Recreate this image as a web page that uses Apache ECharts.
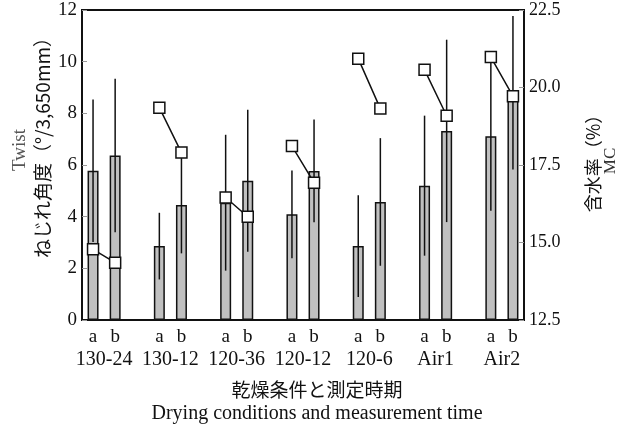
<!DOCTYPE html>
<html>
<head>
<meta charset="utf-8">
<script src="https://cdn.jsdelivr.net/npm/echarts@6/dist/echarts.min.js"></script>
<style>
  html, body { margin: 0; padding: 0; background: #fff; }
  #chart { width: 629px; height: 426px; }
</style>
</head>
<body>
<div id="chart"></div>
<script>
// Drying conditions (group labels) and the two measurement times in each group
const groups = ['130-24', '130-12', '120-36', '120-12', '120-6', 'Air1', 'Air2'];
const phases = ['a', 'b'];

// Twist (deg / 3,650 mm): mean and standard deviation at times a and b
const twistA = [5.78, 2.86, 4.54, 4.09, 2.86, 5.20, 7.11];
const twistB = [6.37, 4.45, 5.39, 5.77, 4.57, 7.32, 8.80];
const sdA    = [2.76, 1.29, 2.63, 1.70, 1.97, 2.71, 2.88];
const sdB    = [2.97, 1.87, 2.75, 1.99, 2.47, 3.53, 2.97];

// Moisture content (%) at times a and b
const mcA = [14.78, 19.35, 16.45, 18.11, 20.93, 20.57, 20.98];
const mcB = [14.35, 17.90, 15.83, 16.93, 19.32, 19.09, 19.72];

// Axis ranges
const twistAxis = { min: 0, max: 12, interval: 2 };
const mcAxis = { min: 12.5, max: 22.5, interval: 2.5 };

const SERIF = "'Liberation Serif', 'DejaVu Serif', serif";
const CJK = "'Noto Sans CJK JP', 'Noto Sans', sans-serif";

// Slots along the x axis: a, b, spacer, a, b, spacer, ... a, b
const slotKeys = [], slotText = [];
const barData = [], mcData = [], errData = [];
groups.forEach((g, i) => {
  phases.forEach((p, j) => {
    const idx = slotKeys.length;
    slotKeys.push(g + '-' + p);
    slotText.push(p);
    const mean = j === 0 ? twistA[i] : twistB[i];
    const sd = j === 0 ? sdA[i] : sdB[i];
    barData.push(mean);
    mcData.push(j === 0 ? mcA[i] : mcB[i]);
    errData.push([idx, mean - sd, mean + sd]);
  });
  if (i < groups.length - 1) {
    slotKeys.push(g + '-gap');
    slotText.push('');
    barData.push('-');
    mcData.push('-');
  }
});

// Boundary positions between slots; group names sit between their a and b
const boundaryKeys = [], boundaryText = [];
for (let k = 0; k <= slotKeys.length; k++) {
  boundaryKeys.push('edge' + k);
  boundaryText.push('');
}
groups.forEach((g, i) => { boundaryText[3 * i + 1] = g; });

const chart = echarts.init(document.getElementById('chart'));
chart.setOption({
  backgroundColor: '#fff',
  animation: false,
  grid: {
    left: 82, right: 105, top: 10, bottom: 106,
    show: true, borderColor: '#111', borderWidth: 2
  },
  xAxis: [
    {
      type: 'category',
      data: slotKeys,
      boundaryGap: true,
      axisLine: { lineStyle: { color: '#111', width: 2 } },
      axisTick: { inside: true, length: 4, lineStyle: { color: '#999', width: 1 } },
      axisLabel: {
        interval: 0, margin: 8,
        formatter: (v, idx) => slotText[idx],
        fontFamily: SERIF, fontSize: 19, color: '#111'
      },
      splitLine: { show: false }
    },
    {
      type: 'category',
      data: boundaryKeys,
      boundaryGap: false,
      position: 'bottom',
      axisLine: { show: false },
      axisTick: { show: false },
      axisLabel: {
        interval: 0, margin: 30,
        formatter: (v, idx) => boundaryText[idx],
        fontFamily: SERIF, fontSize: 20, color: '#111'
      },
      splitLine: { show: false }
    }
  ],
  yAxis: [
    {
      type: 'value',
      position: 'left',
      min: twistAxis.min, max: twistAxis.max, interval: twistAxis.interval,
      axisLine: { show: true, lineStyle: { color: '#111', width: 2 } },
      axisTick: { show: true, inside: true, length: 5, lineStyle: { color: '#999', width: 1 } },
      axisLabel: { margin: 5, fontFamily: SERIF, fontSize: 19, color: '#111' },
      splitLine: { show: false }
    },
    {
      type: 'value',
      position: 'right',
      min: mcAxis.min, max: mcAxis.max, interval: mcAxis.interval,
      axisLine: { show: true, lineStyle: { color: '#111', width: 2 } },
      axisTick: { show: true, inside: true, length: 5, lineStyle: { color: '#999', width: 1 } },
      axisLabel: {
        margin: 5, fontFamily: SERIF, fontSize: 18, color: '#111',
        formatter: v => v.toFixed(1)
      },
      splitLine: { show: false }
    }
  ],
  series: [
    {
      name: 'Twist',
      type: 'bar',
      xAxisIndex: 0, yAxisIndex: 0,
      data: barData,
      barWidth: 11,
      itemStyle: { color: '#c0c0c0', borderColor: '#111', borderWidth: 1.5 },
      z: 2
    },
    {
      name: 'Twist SD',
      type: 'custom',
      xAxisIndex: 0, yAxisIndex: 0,
      data: errData,
      encode: { x: 0, y: [1, 2] },
      renderItem: (params, api) => {
        const x = api.value(0);
        const lo = api.coord([x, api.value(1)]);
        const hi = api.coord([x, api.value(2)]);
        return {
          type: 'line',
          shape: { x1: lo[0], y1: lo[1], x2: hi[0], y2: hi[1] },
          style: { stroke: '#111', lineWidth: 1.5 }
        };
      },
      z: 3
    },
    {
      name: 'MC',
      type: 'line',
      xAxisIndex: 0, yAxisIndex: 1,
      data: mcData,
      connectNulls: false,
      symbol: 'rect',
      symbolSize: 11,
      showAllSymbol: true,
      lineStyle: { color: '#111', width: 1.5 },
      itemStyle: { color: '#fff', borderColor: '#111', borderWidth: 1.5 },
      z: 4
    }
  ],
  graphic: [
    {
      type: 'text', x: 20, y: 150, rotation: Math.PI / 2,
      style: { text: 'Twist', font: '19px ' + SERIF, fill: '#555', align: 'center', verticalAlign: 'middle' }
    },
    {
      type: 'text', x: 43, y: 143, rotation: Math.PI / 2,
      style: { text: 'ねじれ角度（°/3,650mm）', font: '19px ' + CJK, fill: '#111', align: 'center', verticalAlign: 'middle' }
    },
    {
      type: 'text', x: 593, y: 159, rotation: Math.PI / 2,
      style: { text: '含水率（%）', font: '18px ' + CJK, fill: '#111', align: 'center', verticalAlign: 'middle' }
    },
    {
      type: 'text', x: 611, y: 161, rotation: Math.PI / 2,
      style: { text: 'MC', font: '17px ' + SERIF, fill: '#333', align: 'center', verticalAlign: 'middle' }
    },
    {
      type: 'text', x: 317, y: 390,
      style: { text: '乾燥条件と測定時期', font: '19px ' + CJK, fill: '#111', align: 'center', verticalAlign: 'middle' }
    },
    {
      type: 'text', x: 317, y: 414,
      style: { text: 'Drying conditions and measurement time', font: '20px ' + SERIF, fill: '#111', align: 'center', verticalAlign: 'middle' }
    }
  ]
});
</script>
</body>
</html>
